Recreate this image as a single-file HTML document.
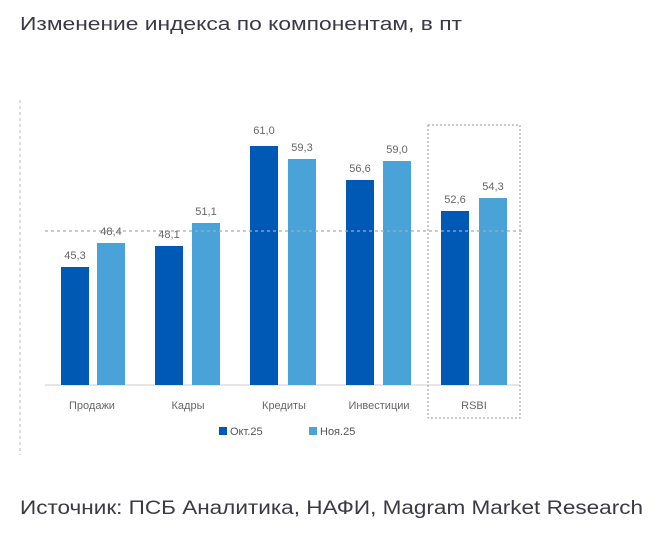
<!DOCTYPE html>
<html><head><meta charset="utf-8"><style>
body{margin:0;width:658px;height:529px;background:#fff;overflow:hidden;font-family:"Liberation Sans","DejaVu Sans",sans-serif}
</style></head><body>
<svg width="658" height="529" xmlns="http://www.w3.org/2000/svg" font-family="Liberation Sans, DejaVu Sans, sans-serif">
<text x="20" y="30" font-size="18.5" fill="#3a3a44" textLength="442" lengthAdjust="spacingAndGlyphs">Изменение индекса по компонентам, в пт</text>
<line x1="20" y1="100" x2="20" y2="455" stroke="#bbb" stroke-dasharray="3,3"/>
<line x1="45" y1="385" x2="520" y2="385" stroke="#ddd" stroke-width="1.5"/>
<rect x="428" y="125" width="92" height="293" fill="none" stroke="#999" stroke-dasharray="2,2"/>
<g fill="#0059b5">
<rect x="61" y="267" width="28" height="118"/>
<rect x="155" y="246" width="28" height="139"/>
<rect x="250" y="146" width="28" height="239"/>
<rect x="346" y="180" width="28" height="205"/>
<rect x="441" y="211" width="28" height="174"/>
</g>
<g fill="#4aa3d8">
<rect x="97" y="243" width="28" height="142"/>
<rect x="192" y="223" width="28" height="162"/>
<rect x="288" y="159" width="28" height="226"/>
<rect x="383" y="161" width="28" height="224"/>
<rect x="479" y="198" width="28" height="187"/>
</g>
<line x1="45" y1="231" x2="522" y2="231" stroke="#aaa" stroke-dasharray="3,3" stroke-width="1.3"/>
<g font-size="11" fill="#666" text-anchor="middle">
<text x="75" y="259">45,3</text><text x="111" y="235">48,4</text>
<text x="169" y="238">48,1</text><text x="206" y="215">51,1</text>
<text x="264" y="134">61,0</text><text x="302" y="151">59,3</text>
<text x="360" y="172">56,6</text><text x="397" y="153">59,0</text>
<text x="455" y="203">52,6</text><text x="493" y="190">54,3</text>
<text x="92" y="409">Продажи</text><text x="188" y="409">Кадры</text>
<text x="284" y="409">Кредиты</text><text x="379" y="409">Инвестиции</text>
<text x="474" y="409">RSBI</text>
</g>
<rect x="219" y="427" width="8" height="8" fill="#0059b5"/>
<text x="230" y="435" font-size="11" fill="#555">Окт.25</text>
<rect x="309" y="427" width="8" height="8" fill="#4aa3d8"/>
<text x="320" y="435" font-size="11" fill="#555">Ноя.25</text>
<text x="20" y="514" font-size="19" fill="#3a3a44" textLength="623" lengthAdjust="spacingAndGlyphs">Источник: ПСБ Аналитика, НАФИ, Magram Market Research</text>
</svg>
</body></html>
